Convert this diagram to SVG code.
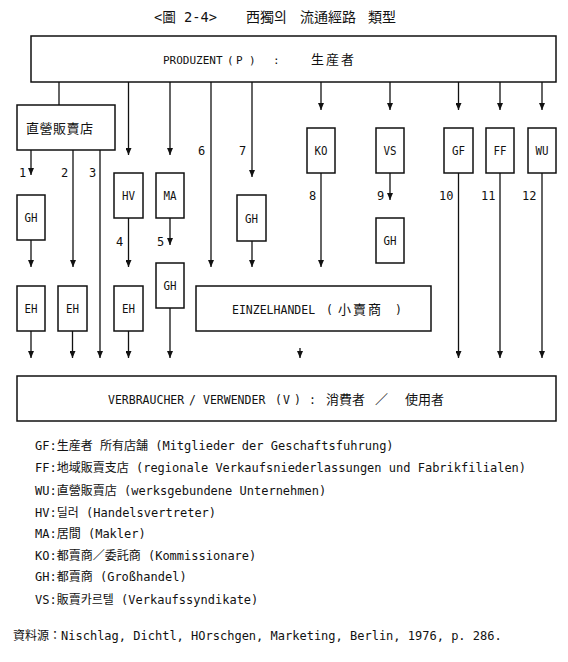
<svg xmlns="http://www.w3.org/2000/svg" width="568" height="662" viewBox="0 0 568 662">
<style>
.bx{fill:#fff;stroke:#111;stroke-width:1.5}
.ln{fill:none;stroke:#111;stroke-width:1.3}
.ar{marker-end:url(#ah)}
text{fill:#111;font-family:"DejaVu Sans Mono","Noto Sans CJK KR",monospace}
.lb{font-size:13px;text-anchor:middle}
.num{font-size:12px}
.lg{font-size:12px}
.cjk{font-family:"Noto Sans CJK KR","Noto Sans CJK TC",sans-serif}
</style>
<defs>
<marker id="ah" viewBox="0 0 7 6" refX="7" refY="3" markerWidth="7" markerHeight="6" markerUnits="userSpaceOnUse" orient="auto">
<path d="M0,0 L7,3 L0,6 z" fill="#111"/>
</marker>
</defs>
<rect width="568" height="662" fill="#fff"/>

<g id="title">
<text y="22" font-size="14"><tspan x="154" textLength="63" lengthAdjust="spacingAndGlyphs">&lt;圖 2-4&gt;</tspan><tspan x="246" class="cjk">西獨의</tspan><tspan x="300" class="cjk">流通經路</tspan><tspan x="368" class="cjk">類型</tspan></text>
</g>

<g id="connectors">
<path class="ln" d="M59,82V105"/>
<path class="ln ar" d="M128.5,82V155"/>
<path class="ln ar" d="M170,82V155"/>
<path class="ln ar" d="M211,82V267"/>
<path class="ln ar" d="M252,82V177"/>
<path class="ln ar" d="M321,82V110"/>
<path class="ln ar" d="M390,82V110"/>
<path class="ln ar" d="M458.5,82V110"/>
<path class="ln ar" d="M500,82V110"/>
<path class="ln ar" d="M542,82V110"/>
<path class="ln ar" d="M31,150V175"/>
<path class="ln ar" d="M73,150V267"/>
<path class="ln ar" d="M100,150V358"/>
<path class="ln ar" d="M31,240V267"/>
<path class="ln ar" d="M128.5,218V267"/>
<path class="ln ar" d="M170,218V245"/>
<path class="ln ar" d="M252,241V267"/>
<path class="ln ar" d="M321,173V267"/>
<path class="ln ar" d="M390,173V200"/>
<path class="ln ar" d="M458.5,173V358"/>
<path class="ln ar" d="M500,173V358"/>
<path class="ln ar" d="M542,173V358"/>
<path class="ln ar" d="M31,331V358"/>
<path class="ln ar" d="M72.5,331V358"/>
<path class="ln ar" d="M128.5,331V358"/>
<path class="ln ar" d="M170,308V358"/>
<path class="ln ar" d="M300,348V358"/>
</g>

<g id="connector-labels" class="num">
<text x="19" y="177">1</text>
<text x="61" y="177">2</text>
<text x="89" y="177">3</text>
<text x="116" y="246">4</text>
<text x="157" y="246">5</text>
<text x="198" y="155">6</text>
<text x="239" y="155">7</text>
<text x="309" y="200">8</text>
<text x="377" y="200">9</text>
<text x="439" y="200">10</text>
<text x="481" y="200">11</text>
<text x="522" y="200">12</text>
</g>

<g id="n-P">
<rect class="bx" x="31" y="36" width="525" height="46"/>
<text y="64" font-size="11"><tspan x="163">PRODUZENT</tspan><tspan x="227">(</tspan><tspan x="236">P</tspan><tspan x="249">)</tspan><tspan x="273">:</tspan><tspan x="311" class="cjk" font-size="13" letter-spacing="2">生産者</tspan></text>
</g>
<g id="n-direct">
<rect class="bx" x="17" y="105" width="98" height="45"/>
<text x="26" y="133" font-size="13" class="cjk" letter-spacing="0.5">直營販賣店</text>
</g>
<g id="n-HV"><rect class="bx" x="114" y="173" width="29" height="45"/><text class="lb" x="128.5" y="200" textLength="13" lengthAdjust="spacingAndGlyphs">HV</text></g>
<g id="n-MA"><rect class="bx" x="156" y="173" width="28" height="45"/><text class="lb" x="170" y="200" textLength="13" lengthAdjust="spacingAndGlyphs">MA</text></g>
<g id="n-GH1"><rect class="bx" x="17" y="195" width="28" height="45"/><text class="lb" x="31" y="222" textLength="13" lengthAdjust="spacingAndGlyphs">GH</text></g>
<g id="n-GH5"><rect class="bx" x="156" y="263" width="28" height="45"/><text class="lb" x="170" y="290" textLength="13" lengthAdjust="spacingAndGlyphs">GH</text></g>
<g id="n-GH7"><rect class="bx" x="237" y="195" width="29" height="46"/><text class="lb" x="251.5" y="223" textLength="13" lengthAdjust="spacingAndGlyphs">GH</text></g>
<g id="n-KO"><rect class="bx" x="307" y="128" width="28" height="45"/><text class="lb" x="321" y="155" textLength="13" lengthAdjust="spacingAndGlyphs">KO</text></g>
<g id="n-VS"><rect class="bx" x="376" y="128" width="28" height="45"/><text class="lb" x="390" y="155" textLength="13" lengthAdjust="spacingAndGlyphs">VS</text></g>
<g id="n-GH9"><rect class="bx" x="376" y="218" width="28" height="45"/><text class="lb" x="390" y="245" textLength="13" lengthAdjust="spacingAndGlyphs">GH</text></g>
<g id="n-GF"><rect class="bx" x="444" y="128" width="29" height="45"/><text class="lb" x="458.5" y="155" textLength="13" lengthAdjust="spacingAndGlyphs">GF</text></g>
<g id="n-FF"><rect class="bx" x="486" y="128" width="28" height="45"/><text class="lb" x="500" y="155" textLength="13" lengthAdjust="spacingAndGlyphs">FF</text></g>
<g id="n-WU"><rect class="bx" x="528" y="128" width="28" height="45"/><text class="lb" x="542" y="155" textLength="13" lengthAdjust="spacingAndGlyphs">WU</text></g>
<g id="n-EH1"><rect class="bx" x="17" y="286" width="28" height="45"/><text class="lb" x="31" y="313" textLength="13" lengthAdjust="spacingAndGlyphs">EH</text></g>
<g id="n-EH2"><rect class="bx" x="58" y="286" width="29" height="45"/><text class="lb" x="72.5" y="313" textLength="13" lengthAdjust="spacingAndGlyphs">EH</text></g>
<g id="n-EH3"><rect class="bx" x="114" y="286" width="29" height="45"/><text class="lb" x="128.5" y="313" textLength="13" lengthAdjust="spacingAndGlyphs">EH</text></g>
<g id="n-EINZELHANDEL">
<rect class="bx" x="196" y="286" width="235" height="45"/>
<text y="314" font-size="11.5"><tspan x="232">EINZELHANDEL</tspan><tspan x="326">(</tspan><tspan x="338" class="cjk" font-size="13" letter-spacing="2">小賣商</tspan><tspan x="395">)</tspan></text>
</g>
<g id="n-V">
<rect class="bx" x="17" y="376" width="539" height="45"/>
<text y="404" font-size="11.5"><tspan x="108">VERBRAUCHER</tspan><tspan x="189">/</tspan><tspan x="203">VERWENDER</tspan><tspan x="275">(</tspan><tspan x="283">V</tspan><tspan x="294">)</tspan><tspan x="309">:</tspan><tspan x="326" class="cjk" font-size="13">消費者</tspan><tspan x="375" class="cjk" font-size="13">／</tspan><tspan x="405" class="cjk" font-size="13">使用者</tspan></text>
</g>

<g id="legend" class="lg">
<text x="35" y="449.5">GF:<tspan class="cjk">生産者</tspan>  <tspan class="cjk">所有店舗</tspan> (Mitglieder der Geschaftsfuhrung)</text>
<text x="35" y="472">FF:<tspan class="cjk">地域販賣支店</tspan> (regionale Verkaufsniederlassungen und Fabrikfilialen)</text>
<text x="35" y="494.5">WU:<tspan class="cjk">直營販賣店</tspan> (werksgebundene Unternehmen)</text>
<text x="35" y="517">HV:<tspan class="cjk">딜러</tspan> (Handelsvertreter)</text>
<text x="35" y="537.5">MA:<tspan class="cjk">居間</tspan> (Makler)</text>
<text x="35" y="559.5">KO:<tspan class="cjk">都賣商／委託商</tspan> (Kommissionare)</text>
<text x="35" y="581">GH:<tspan class="cjk">都賣商</tspan> (Großhandel)</text>
<text x="35" y="603.5">VS:<tspan class="cjk">販賣카르텔</tspan> (Verkaufssyndikate)</text>
</g>

<g id="source" class="lg">
<text x="13" y="640"><tspan class="cjk">資料源：</tspan>Nischlag, Dichtl, HOrschgen, Marketing, Berlin, 1976, p. 286.</text>
</g>
</svg>
